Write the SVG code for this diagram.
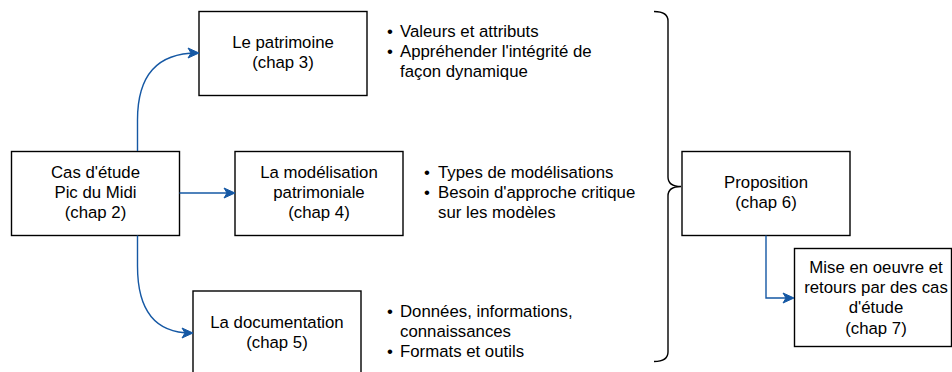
<svg xmlns="http://www.w3.org/2000/svg" width="952" height="372" viewBox="0 0 952 372">
  <style>
    .box { fill: #ffffff; stroke: #000000; stroke-width: 1.4; }
    .lbl { font-family: "Liberation Sans", Arial, sans-serif; font-size: 16.8px; fill: #000000; text-anchor: middle; }
    .lst { font-family: "Liberation Sans", Arial, sans-serif; font-size: 16.8px; fill: #000000; }
    .bul { font-family: "Liberation Sans", Arial, sans-serif; font-size: 16.8px; fill: #000000; text-anchor: middle; }
    .edge { fill: none; stroke: #1558a4; stroke-width: 1.4; }
    .brace { fill: none; stroke: #000000; stroke-width: 1.4; }
  </style>
  <defs>
    <marker id="arrow" markerUnits="userSpaceOnUse" markerWidth="14" markerHeight="12" viewBox="0 -6 12 12" refX="9" refY="0" orient="auto">
      <path d="M0,-5 L11,0 L0,5 L3,0 Z" fill="#1558a4" stroke="#1558a4" stroke-width="1"/>
    </marker>
  </defs>
  <rect width="952" height="372" fill="#ffffff"/>

  <g id="node-cas">
    <rect class="box" x="11.5" y="151.5" width="168" height="84"/>
    <text class="lbl" x="95.5" y="177.5">Cas d'étude</text>
    <text class="lbl" x="95.5" y="197.5">Pic du Midi</text>
    <text class="lbl" x="95.5" y="217.5">(chap 2)</text>
  </g>

  <g id="node-patrimoine">
    <rect class="box" x="199" y="11.5" width="168" height="84"/>
    <text class="lbl" x="283" y="48">Le patrimoine</text>
    <text class="lbl" x="283" y="68">(chap 3)</text>
  </g>

  <g id="node-modelisation">
    <rect class="box" x="235" y="151.5" width="168" height="84"/>
    <text class="lbl" x="319" y="177.5">La modélisation</text>
    <text class="lbl" x="319" y="197.5">patrimoniale</text>
    <text class="lbl" x="319" y="217.5">(chap 4)</text>
  </g>

  <g id="node-documentation">
    <rect class="box" x="193" y="291" width="168" height="84"/>
    <text class="lbl" x="277" y="327.5">La documentation</text>
    <text class="lbl" x="277" y="347.5">(chap 5)</text>
  </g>

  <g id="node-proposition">
    <rect class="box" x="682" y="151.5" width="168" height="84"/>
    <text class="lbl" x="766" y="187.5">Proposition</text>
    <text class="lbl" x="766" y="207.5">(chap 6)</text>
  </g>

  <g id="node-mise">
    <rect class="box" x="794.5" y="248.5" width="157" height="98"/>
    <text class="lbl" x="876" y="272.5">Mise en oeuvre et</text>
    <text class="lbl" x="876" y="293">retours par des cas</text>
    <text class="lbl" x="876" y="313">d'étude</text>
    <text class="lbl" x="876" y="333.5">(chap 7)</text>
  </g>

  <g id="list-patrimoine">
    <text class="bul" x="390" y="37">•</text>
    <text class="lst" x="400" y="37">Valeurs et attributs</text>
    <text class="bul" x="390" y="57">•</text>
    <text class="lst" x="400" y="57">Appréhender l'intégrité de</text>
    <text class="lst" x="400" y="77">façon dynamique</text>
  </g>

  <g id="list-modelisation">
    <text class="bul" x="427" y="177.5">•</text>
    <text class="lst" x="438" y="177.5">Types de modélisations</text>
    <text class="bul" x="427" y="197.5">•</text>
    <text class="lst" x="438" y="197.5">Besoin d'approche critique</text>
    <text class="lst" x="438" y="217.5">sur les modèles</text>
  </g>

  <g id="list-documentation">
    <text class="bul" x="390" y="317">•</text>
    <text class="lst" x="400" y="317">Données, informations,</text>
    <text class="lst" x="400" y="337">connaissances</text>
    <text class="bul" x="390" y="357">•</text>
    <text class="lst" x="400" y="357">Formats et outils</text>
  </g>

  <g id="brace">
    <path class="brace" d="M654,11.5 Q668,11.5 668,21 L668,177 Q668,186.5 681,186.5 Q668,186.5 668,196 L668,352 Q668,361.5 654,361.5"/>
  </g>

  <g id="connectors">
    <path class="edge" marker-end="url(#arrow)" d="M137.5,151 L137.5,120 Q137.5,53 197,53"/>
    <path class="edge" marker-end="url(#arrow)" d="M179.5,193 L233,193"/>
    <path class="edge" marker-end="url(#arrow)" d="M137.5,235.5 L137.5,266 Q137.5,333 191,333"/>
    <path class="edge" marker-end="url(#arrow)" d="M766,235.5 L766,298 L792,298"/>
  </g>
</svg>
